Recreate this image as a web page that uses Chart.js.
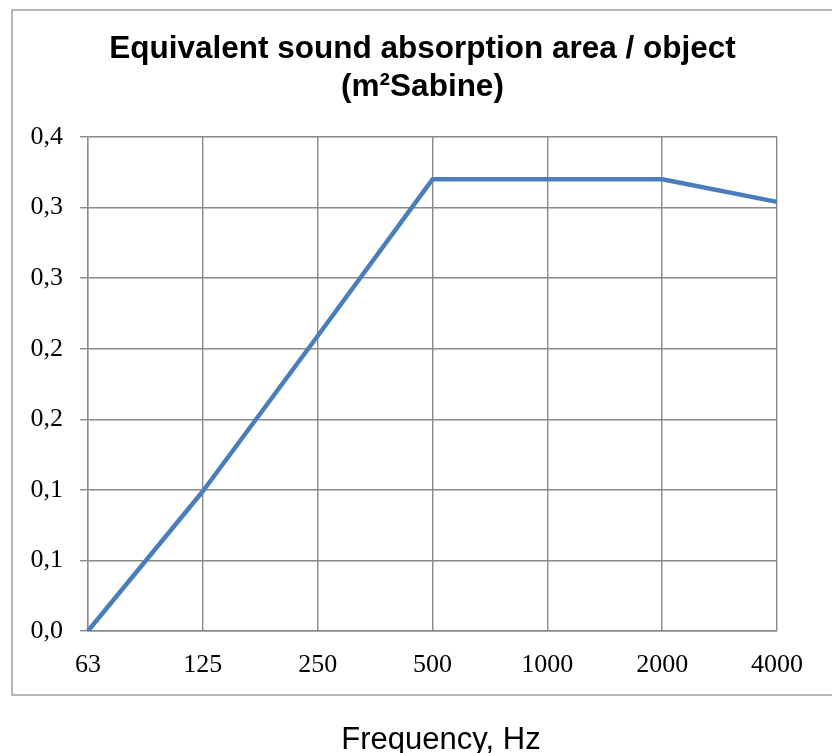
<!DOCTYPE html>
<html>
<head>
<meta charset="utf-8">
<script src="https://cdn.jsdelivr.net/npm/chart.js@4/dist/chart.umd.min.js"></script>
<style>
  html, body { margin: 0; padding: 0; background: #fff; }
  #wrap { position: relative; width: 832px; height: 753px; }
  #xTitle {
    position: absolute;
    left: 441px;
    top: 723px;
    transform: translateX(-50%);
    font: 31px/31px 'Liberation Sans', Arial, sans-serif;
    color: #000;
    white-space: nowrap;
  }
</style>
</head>
<body>
<div id="wrap">
  <canvas id="absorptionChart"></canvas>
  <div id="xTitle"></div>
</div>
<script>
const frequencies = ['63', '125', '250', '500', '1000', '2000', '4000'];
const absorption = [0, 0.099, 0.209, 0.32, 0.32, 0.32, 0.304];
const yTickLabels = ['0,0', '0,1', '0,1', '0,2', '0,2', '0,3', '0,3', '0,4'];

const titleLines = ['Equivalent sound absorption area / object', '(m²Sabine)'];
const xTitle = 'Frequency, Hz';

const gridColor = '#8a8a8a';

document.getElementById('xTitle').textContent = xTitle;

// outer frame around title + plot (the axis title sits below it)
const framePlugin = {
  id: 'frame',
  beforeDraw(chart) {
    const ctx = chart.ctx;
    ctx.save();
    ctx.fillStyle = '#fff';
    ctx.fillRect(0, 0, chart.width, chart.height);
    ctx.strokeStyle = '#a0a0a0';
    ctx.lineWidth = 1.5;
    ctx.strokeRect(12, 10, chart.width, 685);
    ctx.restore();
  }
};

new Chart(document.getElementById('absorptionChart'), {
  type: 'line',
  data: {
    labels: frequencies,
    datasets: [{
      data: absorption,
      borderColor: '#4a7ebb',
      borderWidth: 4.5,
      pointRadius: 0,
      tension: 0,
      borderJoinStyle: 'round',
      fill: false
    }]
  },
  options: {
    responsive: true,
    maintainAspectRatio: false,
    animation: false,
    layout: { padding: { left: 13, right: 0, top: 0, bottom: 0 } },
    plugins: {
      legend: { display: false },
      tooltip: { enabled: false },
      title: {
        display: true,
        text: titleLines,
        color: '#000',
        font: { family: 'Liberation Sans, Arial, sans-serif', size: 31.5, weight: 'bold', lineHeight: 1.206 },
        padding: { top: 30, bottom: 31 }
      }
    },
    scales: {
      x: {
        offset: false,
        grid: { color: gridColor, lineWidth: 1.4, drawTicks: false },
        border: { color: gridColor, width: 1.4 },
        ticks: {
          color: '#000',
          font: { family: 'Liberation Serif, Times New Roman, serif', size: 26 },
          padding: 19,
          maxRotation: 0,
          autoSkip: false
        },
        afterFit(scale) { scale.height = 122; }
      },
      y: {
        min: 0,
        max: 0.35,
        grid: { color: gridColor, lineWidth: 1.4, tickLength: 8 },
        border: { color: gridColor, width: 1.4 },
        ticks: {
          stepSize: 0.05,
          color: '#000',
          font: { family: 'Liberation Serif, Times New Roman, serif', size: 26 },
          padding: 17,
          callback: (value, index) => yTickLabels[index]
        },
        afterFit(scale) { scale.width = 75; }
      },
      // empty right-hand axis, only reserves the margin right of the plot
      spacer: {
        type: 'linear',
        position: 'right',
        grid: { display: false },
        border: { display: false },
        ticks: { display: false },
        afterFit(scale) { scale.width = 55; }
      }
    }
  },
  plugins: [framePlugin]
});
</script>
</body>
</html>
